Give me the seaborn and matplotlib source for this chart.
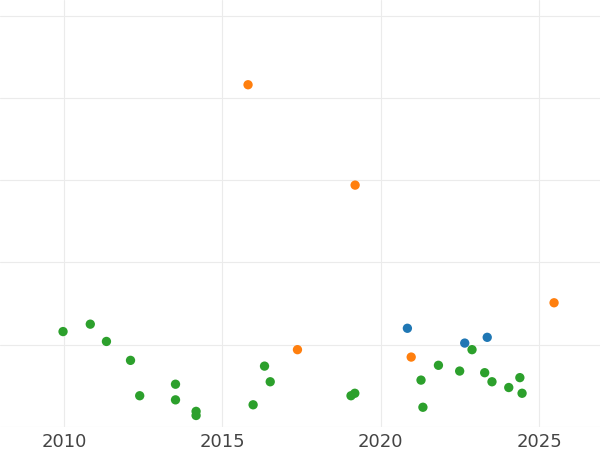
import pandas as pd
import matplotlib.pyplot as plt
import seaborn as sns

# series (y units arbitrary: gridlines at 1..5)
blue_x = [2020.84, 2022.65, 2023.36]
blue_y = [1.20, 1.02, 1.09]

orange_x = [2015.81, 2019.19, 2017.37, 2020.96, 2025.47]
orange_y = [4.16, 2.94, 0.94, 0.85, 1.51]

green_x = [2009.97, 2010.83, 2011.34, 2012.10, 2012.39, 2013.52, 2013.52,
           2014.17, 2014.17, 2015.97, 2016.33, 2016.51, 2019.06, 2019.18,
           2021.27, 2021.33, 2021.82, 2022.49, 2022.88, 2023.28, 2023.51,
           2024.04, 2024.39, 2024.46]
green_y = [1.16, 1.25, 1.04, 0.81, 0.38, 0.52, 0.33,
           0.19, 0.14, 0.27, 0.74, 0.55, 0.38, 0.41,
           0.57, 0.24, 0.75, 0.68, 0.94, 0.66, 0.55,
           0.48, 0.60, 0.41]

x_ticks = [2010, 2015, 2020, 2025]

data = pd.DataFrame({
    'year': blue_x + orange_x + green_x,
    'value': blue_y + orange_y + green_y,
    'group': ['blue'] * len(blue_x) + ['orange'] * len(orange_x) + ['green'] * len(green_x),
})

sns.set_style('whitegrid', {'grid.color': '#ebebeb'})

fig = plt.figure(figsize=(6, 4.5), dpi=100)
ax = fig.add_axes([0, 0.0511, 1, 0.9489])

sns.scatterplot(data=data, x='year', y='value', hue='group',
                palette={'blue': '#1f77b4', 'orange': '#ff7f0e', 'green': '#2ca02c'},
                s=45, linewidth=0, legend=False, ax=ax)

ax.set_xlim(2007.98, 2026.92)
ax.set_ylim(0, 5.19)
ax.set_xticks(x_ticks)
ax.set_yticks([0, 1, 2, 3, 4, 5])
ax.set_yticklabels([])
ax.tick_params(axis='x', labelsize=13, labelcolor='#444444', pad=4, length=0)
ax.tick_params(axis='y', length=0)
ax.set_xlabel('')
ax.set_ylabel('')
for s in ax.spines.values():
    s.set_visible(False)

fig.savefig('out.png', dpi=100)
